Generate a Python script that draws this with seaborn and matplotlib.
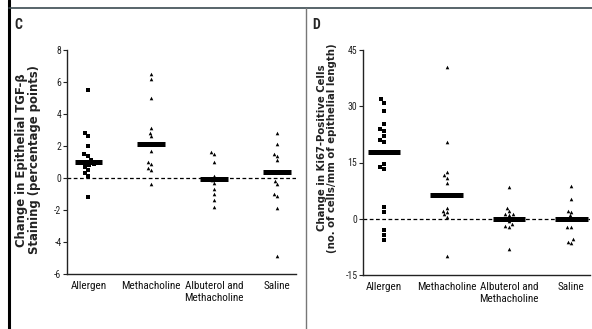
import numpy as np
import pandas as pd
import matplotlib
matplotlib.use("Agg")
import matplotlib.pyplot as plt
from matplotlib.lines import Line2D
from matplotlib import font_manager
import seaborn as sns

# ---------------- data ----------------
categories = ["Allergen", "Methacholine", "Albuterol and\nMethacholine", "Saline"]

tgf_allergen = [5.5, 2.8, 2.6, 2.0, 1.5, 1.4, 1.1, 1.0, 0.9, 0.8, 0.7, 0.5, 0.3, 0.1, -1.2]
tgf_methacholine = [6.5, 6.2, 5.0, 3.1, 2.8, 2.6, 1.7, 1.0, 0.9, 0.6, 0.5, -0.4]
tgf_albuterol = [1.6, 1.5, 1.0, 0.1, -0.1, -0.3, -0.7, -1.0, -1.4, -1.8]
tgf_saline = [2.8, 2.1, 1.5, 1.4, 1.1, -0.2, -0.4, -1.0, -1.1, -1.9, -4.9]
tgf_bars = [1.0, 2.15, -0.05, 0.4]

ki_allergen = [32.0, 31.0, 28.7, 25.2, 24.0, 23.5, 22.0, 21.0, 20.5, 14.5, 13.7, 13.2, 3.2, 1.9, -3.0, -4.3, -5.6]
ki_methacholine = [40.5, 20.5, 12.5, 11.8, 11.0, 9.6, 2.9, 2.2, 1.8, 1.2, 0.6, -9.8]
ki_albuterol = [8.5, 3.0, 2.2, 1.3, 1.2, 1.1, 0.2, -0.5, -1.5, -2.0, -2.2, -8.0]
ki_saline = [8.8, 5.3, 2.0, 1.9, 1.0, 0.1, -2.2, -2.2, -5.5, -6.2, -6.4]
ki_bars = [17.7, 6.4, 0.0, 0.0]

tgf_ticks = [-6, -4, -2, 0, 2, 4, 6, 8]
ki_ticks = [-15, 0, 15, 30, 45]

tgf_label = "Change in Epithelial TGF-\u03b2\nStaining (percentage points)"
ki_label = "Change in Ki67-Positive Cells\n(no. of cells/mm of epithelial length)"


def frame(groups):
    rows = []
    for cat, vals in zip(categories, groups):
        for v in vals:
            rows.append({"group": cat, "value": v})
    return pd.DataFrame(rows)


tgf_df = frame([tgf_allergen, tgf_methacholine, tgf_albuterol, tgf_saline])
ki_df = frame([ki_allergen, ki_methacholine, ki_albuterol, ki_saline])

# ---------------- style ----------------
sns.set_theme(style="white")
avail = {f.name for f in font_manager.fontManager.ttflist}
narrow = next((f for f in ["Liberation Sans Narrow", "DejaVu Sans Condensed", "Roboto Condensed"] if f in avail), "DejaVu Sans")
plt.rcParams["font.family"] = [narrow, "DejaVu Sans"]
plt.rcParams["axes.unicode_minus"] = False

W, H = 592, 329
fig = plt.figure(figsize=(W / 100, H / 100), dpi=100)
fig.patch.set_facecolor("white")


def px_axes(l, t, r, b):
    return fig.add_axes([l / W, 1 - b / H, (r - l) / W, (b - t) / H])


axC = px_axes(67, 50, 296, 274)
axD = px_axes(363, 50, 590, 275)


def panel(ax, df, bars, ylim, yticks, half):
    first = df[df["group"] == categories[0]]
    rest = df[df["group"] != categories[0]]
    sns.swarmplot(data=first, x="group", y="value", order=categories, marker="s",
                  size=3.3, color="black", ax=ax, zorder=3)
    sns.swarmplot(data=rest, x="group", y="value", order=categories, marker="^",
                  size=2.6, color="black", ax=ax, zorder=3)
    ax.axhline(0, ls=(0, (3, 2)), color="black", lw=0.9, zorder=1)
    x = np.arange(len(categories))
    ax.hlines(bars, x - half, x + half, color="black", lw=3.6, zorder=5)
    ax.set_ylim(ylim)
    ax.set_yticks(yticks)
    ax.set_xlim(-0.34, 3.3)
    for s in ["top", "right"]:
        ax.spines[s].set_visible(False)
    for s in ["left", "bottom"]:
        ax.spines[s].set_color("#222222")
        ax.spines[s].set_linewidth(1.0)
    ax.tick_params(axis="y", left=True, direction="out", length=3, width=0.8,
                   labelsize=7, pad=1, colors="#222222")
    ax.tick_params(axis="x", bottom=False, length=0, labelsize=8, pad=5, colors="#111111")
    ax.set_xlabel("")
    ax.set_ylabel("")
    ax.set_facecolor("white")


panel(axC, tgf_df, tgf_bars, (-6, 8), tgf_ticks, 0.22)
panel(axD, ki_df, ki_bars, (-15, 45), ki_ticks, 0.26)

# y labels
fig.text(28 / W, 1 - 160 / H, tgf_label, rotation=90, ha="center", va="center",
         fontsize=8.4, fontweight="bold", family="DejaVu Sans", multialignment="center",
         linespacing=0.95, color="#222222")
fig.text(327 / W, 1 - 148 / H, ki_label, rotation=90, ha="center", va="center",
         fontsize=7.3, fontweight="bold", family="DejaVu Sans", multialignment="center",
         linespacing=1.0, color="#222222")

# panel letters
fig.text(14 / W, 1 - 25 / H, "C", fontsize=10, fontweight="bold", va="center", ha="left")
fig.text(312 / W, 1 - 25 / H, "D", fontsize=10, fontweight="bold", va="center", ha="left")

# frame lines
fig.add_artist(Line2D([8.5 / W, 8.5 / W], [0, 1], transform=fig.transFigure, color="black", lw=2.2))
fig.add_artist(Line2D([8.5 / W, 1], [1 - 7.5 / H, 1 - 7.5 / H], transform=fig.transFigure, color="#3b4a50", lw=1.2))
fig.add_artist(Line2D([306 / W, 306 / W], [0, 1 - 7.5 / H], transform=fig.transFigure, color="#777777", lw=1.0))

fig.savefig("out.png", dpi=100, facecolor="white")
